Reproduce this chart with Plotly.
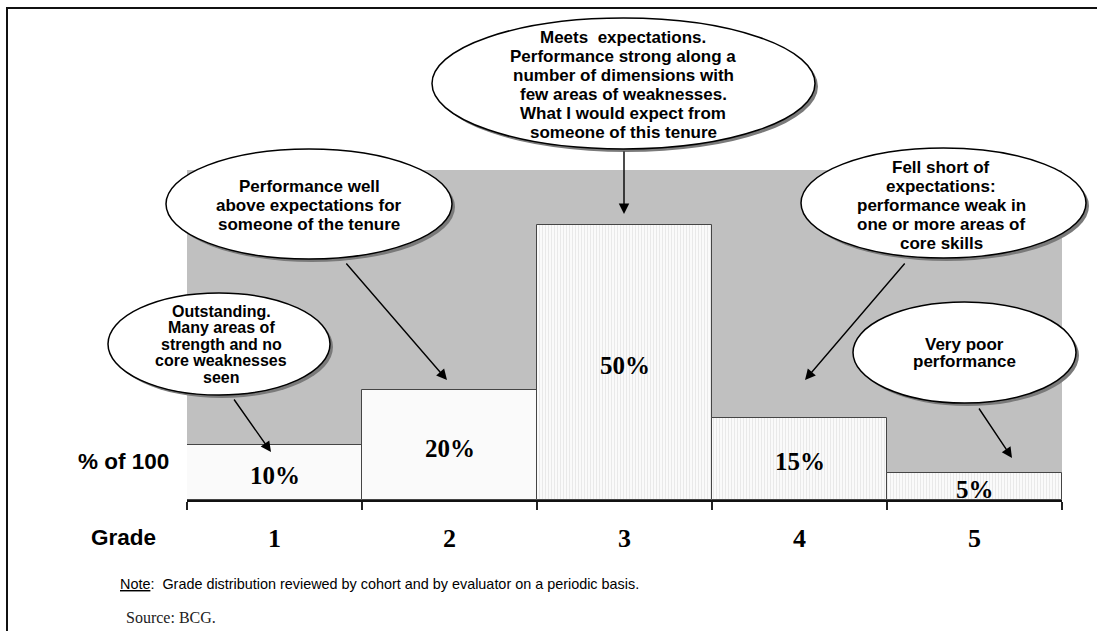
import plotly.graph_objects as go

# Grade distribution data
grades = ["1", "2", "3", "4", "5"]
shares = [10, 20, 50, 15, 5]
hatched = [False, False, True, True, True]

# Callout texts, one entry per grade
callout_lines = [
    ["Outstanding.", "Many areas of", "strength and no", "core weaknesses", "seen"],
    ["Performance well", "above expectations for", "someone of the tenure"],
    ["Meets\u00a0 expectations.", "Performance strong along a", "number of dimensions with",
     "few areas of weaknesses.", "What I would expect from", "someone of this tenure"],
    ["Fell short of", "expectations:", "performance weak in", "one or more areas of", "core skills"],
    ["Very poor", "performance"],
]

W, H = 1097, 631
PL, PR, PT, PB = 187, 1062, 170, 500  # plot box in canvas pixels


def px(x):
    return (x - PL) / (PR - PL)


def py(y):
    return (PB - y) / (PB - PT)


SANS = "Liberation Sans, Arial, sans-serif"
SERIF = "Liberation Serif, Times New Roman, serif"

fig = go.Figure(
    go.Bar(
        x=grades,
        y=shares,
        width=1,
        marker=dict(
            color="#fafafa",
            line=dict(color="#454545", width=1),
            pattern=dict(
                shape=["|" if h else "" for h in hatched],
                fgcolor="#d6d6d6",
                bgcolor="#fafafa",
                size=3,
                solidity=0.3,
            ),
        ),
        hoverinfo="skip",
    )
)

annotations = []
shapes = []

# value labels inside the bars (category axis: position = category index)
for i, v in enumerate(shares):
    annotations.append(dict(
        x=i, y=v / 2, xref="x", yref="y", text=f"{v}%", showarrow=False,
        yshift=-3, font=dict(family=SERIF, size=25, color="black", weight="bold"),
    ))

# callout layout: ellipse centre/radii, text centre, line pitch, font size, arrow tail and tip
callout_geom = [
    dict(cx=219, cy=344, rx=111, ry=51, tx=221, ty=344.3, pitch=16.4, fs=16, tail=(233, 398), tip=(271, 452)),
    dict(cx=309, cy=204, rx=143, ry=55, tx=309, ty=205.6, pitch=18.7, fs=17, tail=(345, 262), tip=(447, 380)),
    dict(cx=623.5, cy=83.5, rx=191.5, ry=65.5, tx=623, ty=84.8, pitch=19.0, fs=17, tail=(624, 150), tip=(624, 214)),
    dict(cx=943.5, cy=203, rx=142.5, ry=55, tx=941.3, ty=205.3, pitch=19.0, fs=17, tail=(906, 262), tip=(805, 380)),
    dict(cx=964.5, cy=352.5, rx=111.5, ry=50.5, tx=964.2, ty=353, pitch=17.4, fs=17, tail=(978, 407), tip=(1012, 458)),
]

for lines, g in zip(callout_lines, callout_geom):
    # drop shadow
    shapes.append(dict(
        type="circle", xref="paper", yref="paper", layer="above",
        x0=px(g["cx"] - g["rx"] + 3), x1=px(g["cx"] + g["rx"] + 3),
        y0=py(g["cy"] + g["ry"] + 3), y1=py(g["cy"] - g["ry"] + 3),
        fillcolor="#7a7a7a", line=dict(width=0),
    ))
    shapes.append(dict(
        type="circle", xref="paper", yref="paper", layer="above",
        x0=px(g["cx"] - g["rx"]), x1=px(g["cx"] + g["rx"]),
        y0=py(g["cy"] + g["ry"]), y1=py(g["cy"] - g["ry"]),
        fillcolor="white", line=dict(color="black", width=1.5),
    ))
    n = len(lines)
    for i, line in enumerate(lines):
        ly = g["ty"] + (i - (n - 1) / 2) * g["pitch"]
        annotations.append(dict(
            x=px(g["tx"]), y=py(ly), xref="paper", yref="paper", text=line,
            showarrow=False, xanchor="center", yanchor="middle",
            font=dict(family=SANS, size=g["fs"], color="black", weight="bold"),
        ))
    (sx, sy), (ex, ey) = g["tail"], g["tip"]
    annotations.append(dict(
        x=px(ex), y=py(ey), xref="paper", yref="paper", text="",
        showarrow=True, ax=sx - ex, ay=sy - ey, axref="pixel", ayref="pixel",
        arrowhead=2, arrowsize=1.5, arrowwidth=1.4, arrowcolor="black",
    ))

# outer frame
shapes.append(dict(
    type="rect", xref="paper", yref="paper", layer="above",
    x0=px(7), x1=px(W + 20), y0=py(W), y1=py(8),
    line=dict(color="#111", width=2), fillcolor="rgba(0,0,0,0)",
))

# axis captions
annotations.append(dict(
    x=px(123), y=py(461), xref="paper", yref="paper", text="% of 100",
    showarrow=False, xanchor="center", yanchor="middle",
    font=dict(family=SANS, size=22.5, color="black", weight="bold"),
))
annotations.append(dict(
    x=px(123), y=py(537), xref="paper", yref="paper", text="Grade",
    showarrow=False, xanchor="center", yanchor="middle",
    font=dict(family=SANS, size=22.5, color="black", weight="bold"),
))

# footnotes
annotations.append(dict(
    x=px(118), y=py(584), xref="paper", yref="paper",
    text='<span style="text-decoration:underline">Note</span>:\u00a0 Grade distribution reviewed by cohort and by evaluator on a periodic basis.',
    showarrow=False, xanchor="left", yanchor="middle",
    font=dict(family=SANS, size=14.4, color="black"),
))
annotations.append(dict(
    x=px(124), y=py(617), xref="paper", yref="paper", text="Source: BCG.",
    showarrow=False, xanchor="left", yanchor="middle",
    font=dict(family=SERIF, size=16, color="#222"),
))

fig.update_layout(
    width=W, height=H,
    margin=dict(l=PL, r=W - PR, t=PT, b=H - PB, pad=0),
    paper_bgcolor="white",
    plot_bgcolor="#c0c0c0",
    bargap=0,
    showlegend=False,
    shapes=shapes,
    annotations=annotations,
    xaxis=dict(
        type="category", categoryorder="array", categoryarray=grades,
        range=[-0.5, 4.5], showgrid=False, zeroline=False,
        showline=True, linecolor="#111", linewidth=2,
        ticks="outside", tickson="boundaries", ticklen=8, tickwidth=1.5, tickcolor="#222",
        tickfont=dict(family=SERIF, size=26, color="black", weight="bold"),
        ticklabelstandoff=14, fixedrange=True,
    ),
    yaxis=dict(range=[0, 60], visible=False, fixedrange=True),
)

fig.write_html("out.html")
